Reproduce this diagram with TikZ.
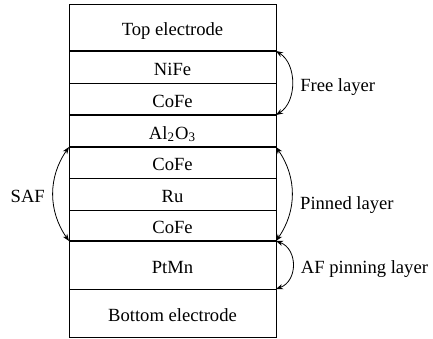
\documentclass[tikz,border=0pt]{standalone}
\usepackage{fontspec}
\setmainfont{Liberation Serif}
\usetikzlibrary{arrows.meta,positioning}
\tikzset{
  layer/.style ={draw,line width=0.4pt,minimum width=103.5pt,inner sep=0pt,
                 outer sep=0pt,text height=8pt,text depth=0pt,
                 font=\fontsize{9.3}{11}\selectfont},
  iface/.style ={line width=1pt},
  ar/.style    ={{Stealth[length=3.5pt,width=2.6pt]}-{Stealth[length=3.5pt,width=2.6pt]},
                 line width=0.4pt},
  lbl/.style   ={font=\fontsize{9.3}{11}\selectfont,inner xsep=4pt,inner ysep=0pt,
                 text height=8pt,text depth=0pt},
}

\begin{document}
\begin{tikzpicture}[node distance=0pt]
\useasboundingbox (0,0) rectangle (216.5pt,-169pt);
% ---- layer stack ------------------------------------------------------
\node[layer,minimum height=23.5pt,anchor=north west] (TOP) at (34.5pt,-2pt) {Top electrode};
\node[layer,minimum height=16pt,below=of TOP] (NIFE) {NiFe};
\node[layer,minimum height=16pt,below=of NIFE] (COFEA) {CoFe};
\node[layer,minimum height=16pt,below=of COFEA] (ALO) {Al\textsubscript{2}O\textsubscript{3}};
\node[layer,minimum height=15.5pt,below=of ALO] (COFEB) {CoFe};
\node[layer,minimum height=16pt,below=of COFEB] (RU) {Ru};
\node[layer,minimum height=15.5pt,below=of RU] (COFEC) {CoFe};
\node[layer,minimum height=24pt,below=of COFEC] (PTMN) {PtMn};
\node[layer,minimum height=24pt,below=of PTMN] (BOT) {Bottom electrode};

% ---- interfaces -------------------------------------------------------
\draw[iface] (NIFE.north west) -- (NIFE.north east);
\draw[iface] (ALO.north west) -- (ALO.north east);
\draw[iface] (COFEB.north west) -- (COFEB.north east);
\draw[iface] (PTMN.north west) -- (PTMN.north east);

% ---- brackets ---------------------------------------------------------
\draw[ar] (NIFE.north east) to[bend left=58] node[lbl,right] (FREE) {Free layer} (COFEA.south east);
\draw[ar] (COFEB.north east) to[bend left=35] node[lbl,right,yshift=-3.5pt] (PIN) {Pinned layer} (COFEC.south east);
\draw[ar] (PTMN.north east) to[bend left=70,looseness=1.25] node[lbl,right] (AFP) {AF pinning layer} (PTMN.south east);
\draw[ar] (COFEB.north west) to[bend right=35] node[lbl,left] (SAF) {SAF} (COFEC.south west);
\end{tikzpicture}
\end{document}
